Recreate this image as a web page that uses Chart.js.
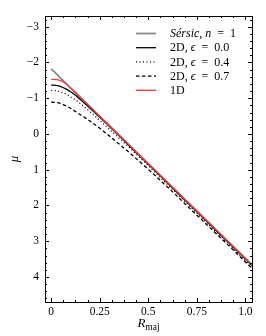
<!DOCTYPE html>
<html>
<head>
<meta charset="utf-8">
<script src="https://cdn.jsdelivr.net/npm/chart.js@4.4.1/dist/chart.umd.min.js"></script>
<style>
  html, body { margin: 0; padding: 0; background: #fff; }
  #wrap { width: 266px; height: 336px; }
</style>
</head>
<body>
<div id="wrap"><canvas id="grafico"></canvas></div>
<script>
// valores
const radios = [0, 0.025, 0.05, 0.075, 0.1, 0.125, 0.15, 0.2, 0.25, 0.3, 0.4, 0.5, 0.6, 0.7, 0.8, 0.9, 1.0, 1.04];
const sersic = [-1.82, -1.69, -1.555, -1.42, -1.29, -1.16, -1.025, -0.76, -0.495, -0.23, 0.30, 0.83, 1.36, 1.89, 2.42, 2.95, 3.48, 3.69];
const dosD00 = [-1.37, -1.36, -1.325, -1.26, -1.18, -1.08, -0.965, -0.72, -0.465, -0.21, 0.32, 0.85, 1.38, 1.91, 2.44, 2.97, 3.50, 3.71];
const dosD04 = [-1.22, -1.21, -1.175, -1.12, -1.04, -0.95, -0.85, -0.62, -0.38, -0.13, 0.37, 0.89, 1.42, 1.95, 2.48, 3.01, 3.54, 3.75];
const dosD07 = [-0.89, -0.88, -0.85, -0.79, -0.72, -0.63, -0.54, -0.36, -0.16, 0.06, 0.51, 0.99, 1.49, 2.01, 2.53, 3.05, 3.58, 3.79];
const unoD = [-1.53, -1.52, -1.49, -1.41, -1.28, -1.15, -1.02, -0.755, -0.49, -0.225, 0.305, 0.835, 1.365, 1.895, 2.425, 2.955, 3.485, 3.695];

const xTicks = [0, 0.25, 0.5, 0.75, 1.0];
const xTickLabels = ["0", "0.25", "0.5", "0.75", "1.0"];
const yTicks = [-3, -2, -1, 0, 1, 2, 3, 4];

const SERIF = "'Liberation Serif', 'DejaVu Serif', serif";

function puntos(serie) {
  return radios.map((r, i) => ({ x: r, y: serie[i] }));
}

function linea(serie, color, ancho, guion, orden) {
  return {
    data: puntos(serie),
    borderColor: color,
    borderWidth: ancho,
    borderDash: guion,
    pointRadius: 0,
    fill: false,
    cubicInterpolationMode: "monotone",
    order: orden,
  };
}

const series = [
  { nombre: [["Sérsic", true], [", ", false], ["n", true], ["  =  1", false]], ds: linea(sersic, "#8a8a8a", 1.8, [], 4) },
  { nombre: [["2D, ", false], ["ϵ", true], ["  =  0.0", false]], ds: linea(dosD00, "#000000", 1.3, [], 1) },
  { nombre: [["2D, ", false], ["ϵ", true], ["  =  0.4", false]], ds: linea(dosD04, "#000000", 1.3, [1, 2.5], 2) },
  { nombre: [["2D, ", false], ["ϵ", true], ["  =  0.7", false]], ds: linea(dosD07, "#000000", 1.3, [3.5, 2.5], 3) },
  { nombre: [["1D", false]], ds: linea(unoD, "#ec3b3b", 1.3, [], 0) },
];

function textoMixto(ctx, partes, x, y, size) {
  let cx = x;
  partes.forEach(([t, it]) => {
    ctx.font = (it ? "italic " : "") + size + "px " + SERIF;
    ctx.fillText(t, cx, y);
    cx += ctx.measureText(t).width;
  });
  return cx;
}

const marco = {
  id: "marco",
  afterDraw(chart) {
    const ctx = chart.ctx;
    const a = chart.chartArea;
    const sx = chart.scales.x;
    const sy = chart.scales.y;
    ctx.save();
    ctx.strokeStyle = "#000";
    ctx.lineWidth = 1;
    ctx.strokeRect(Math.round(a.left) + 0.5, Math.round(a.top) + 0.5, Math.round(a.right - a.left), Math.round(a.bottom - a.top));

    // marcas hacia dentro en los cuatro lados
    ctx.beginPath();
    for (let k = 0; k <= 16; k++) {
      const v = k * 0.0625;
      const px = Math.round(sx.getPixelForValue(v)) + 0.5;
      const l = k % 4 === 0 ? 4 : 2;
      ctx.moveTo(px, a.bottom); ctx.lineTo(px, a.bottom - l);
      ctx.moveTo(px, a.top); ctx.lineTo(px, a.top + l);
    }
    for (let k = -16; k <= 23; k++) {
      const v = k * 0.2;
      const py = Math.round(sy.getPixelForValue(v)) + 0.5;
      const l = k % 5 === 0 ? 4 : 2;
      ctx.moveTo(a.left, py); ctx.lineTo(a.left + l, py);
      ctx.moveTo(a.right, py); ctx.lineTo(a.right - l, py);
    }
    ctx.stroke();

    // leyenda
    ctx.fillStyle = "#000";
    ctx.textBaseline = "middle";
    series.forEach((s, i) => {
      const y = 33.5 + i * 14.2;
      ctx.beginPath();
      ctx.strokeStyle = s.ds.borderColor;
      ctx.lineWidth = s.ds.borderWidth;
      ctx.setLineDash(s.ds.borderDash);
      ctx.moveTo(136, y);
      ctx.lineTo(156, y);
      ctx.stroke();
      ctx.setLineDash([]);
      textoMixto(ctx, s.nombre, 170, y + 0.5, 12);
    });

    // titulo del eje x
    ctx.textBaseline = "alphabetic";
    const cx = (a.left + a.right) / 2;
    ctx.font = "italic 13px " + SERIF;
    const wR = ctx.measureText("R").width;
    ctx.font = "9.5px " + SERIF;
    const wM = ctx.measureText("maj").width;
    const x0 = cx - (wR + wM) / 2;
    ctx.font = "italic 13px " + SERIF;
    ctx.fillText("R", x0, 327);
    ctx.font = "9.5px " + SERIF;
    ctx.fillText("maj", x0 + wR, 330);
    ctx.restore();
  },
};

new Chart(document.getElementById("grafico"), {
  type: "line",
  data: { datasets: series.map((s) => s.ds) },
  options: {
    responsive: true,
    maintainAspectRatio: false,
    animation: false,
    devicePixelRatio: 1,
    layout: { padding: { top: 16, right: 14, left: 0, bottom: 0 } },
    plugins: { legend: { display: false }, tooltip: { enabled: false } },
    scales: {
      x: {
        type: "linear",
        min: -0.032,
        max: 1.034,
        grid: { display: false, drawTicks: false },
        border: { display: false },
        afterBuildTicks: (s) => { s.ticks = xTicks.map((v) => ({ value: v })); },
        afterFit: (s) => { s.height = 34; },
        ticks: {
          color: "#000",
          padding: 3,
          maxRotation: 0,
          font: { family: SERIF, size: 11.5 },
          callback: (v) => xTickLabels[xTicks.indexOf(v)],
        },
      },
      y: {
        type: "linear",
        reverse: true,
        min: -3.3,
        max: 4.7,
        grid: { display: false, drawTicks: false },
        border: { display: false },
        afterBuildTicks: (s) => { s.ticks = yTicks.map((v) => ({ value: v })); },
        afterFit: (s) => { s.width = 45; },
        ticks: {
          color: "#000",
          padding: 6,
          font: { family: SERIF, size: 11.5 },
          callback: (v) => (v < 0 ? "−" + Math.abs(v) : String(v)),
        },
        title: {
          display: true,
          text: "μ",
          color: "#000",
          padding: { top: 7, bottom: 0 },
          font: { family: SERIF, size: 13, style: "italic" },
        },
      },
    },
  },
  plugins: [marco],
});
</script>
</body>
</html>
